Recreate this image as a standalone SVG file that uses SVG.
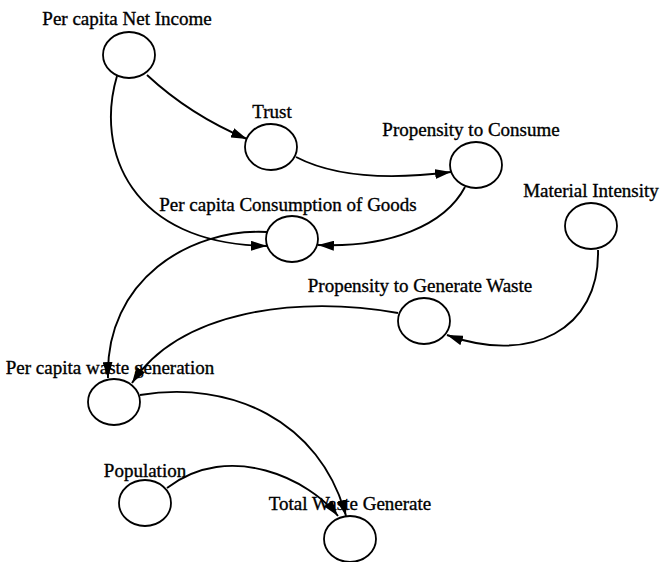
<svg xmlns="http://www.w3.org/2000/svg" width="660" height="562" viewBox="0 0 660 562">
<style>
.n{fill:#fff;stroke:#000;stroke-width:1.8}
.t{font-family:"Liberation Serif","Times New Roman",serif;font-size:19px;fill:#000;stroke:#000;stroke-width:0.35;text-anchor:middle}
.c{fill:none;stroke:#000;stroke-width:1.9;marker-end:url(#a)}
</style>
<defs>
<marker id="a" markerUnits="userSpaceOnUse" markerWidth="16" markerHeight="10" refX="16" refY="5" orient="auto">
<path d="M0,0 L16,5 L0,10 z" fill="#000"/>
</marker>
</defs>
<rect width="660" height="562" fill="#fff"/>
<g id="income"><text class="t" x="127" y="25">Per capita Net Income</text><ellipse class="n" cx="129" cy="55" rx="26" ry="23"/></g>
<g id="trust"><text class="t" x="272" y="118">Trust</text><ellipse class="n" cx="271" cy="147" rx="26" ry="23"/></g>
<g id="consume"><text class="t" x="471" y="136">Propensity to Consume</text><ellipse class="n" cx="476" cy="165" rx="26" ry="23"/></g>
<g id="consumption"><text class="t" x="288" y="211">Per capita Consumption of Goods</text><ellipse class="n" cx="292" cy="239" rx="26" ry="23"/></g>
<g id="material"><text class="t" x="591" y="197">Material Intensity</text><ellipse class="n" cx="591" cy="226" rx="26" ry="23"/></g>
<g id="genwaste"><text class="t" x="420" y="292">Propensity to Generate Waste</text><ellipse class="n" cx="424" cy="321" rx="26" ry="23"/></g>
<g id="wastegen"><text class="t" x="110" y="374">Per capita waste generation</text><ellipse class="n" cx="114" cy="402" rx="26" ry="23"/></g>
<g id="population"><text class="t" x="145" y="477">Population</text><ellipse class="n" cx="145" cy="503" rx="26" ry="23"/></g>
<g id="total"><text class="t" x="350" y="510">Total Waste Generate</text><ellipse class="n" cx="350" cy="539" rx="26" ry="23"/></g>
<g id="connectors">
<path class="c" d="M147,75 Q190,115 247,139"/>
<path class="c" d="M117,76 C95,150 130,244 267,246"/>
<path class="c" d="M296,157 Q350,185 451,172"/>
<path class="c" d="M465,187 C445,225 390,248 318,245"/>
<path class="c" d="M267,232 C190,228 105,280 108,378"/>
<path class="c" d="M398,313 C300,295 180,310 132,383"/>
<path class="c" d="M598,250 C600,330 530,365 447,335"/>
<path class="c" d="M140,395 C230,380 320,420 346,516"/>
<path class="c" d="M167,488 C230,440 310,480 338,516"/>
</g>
</svg>
